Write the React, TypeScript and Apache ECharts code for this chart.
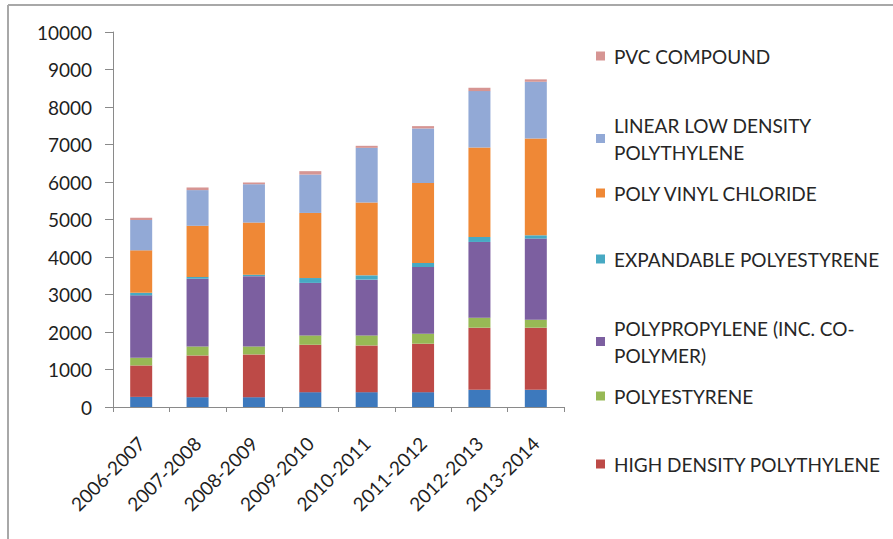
import React, { useEffect, useRef } from "react";
import * as echarts from "echarts";

const categories = ["2006-2007", "2007-2008", "2008-2009", "2009-2010", "2010-2011", "2011-2012", "2012-2013", "2013-2014"];
const ldpe = [270, 262, 262, 396, 396, 396, 459, 459];
const hdpe = [838, 1113, 1140, 1264, 1246, 1292, 1656, 1656];
const polystyrene = [205, 240, 213, 249, 267, 267, 267, 213];
const polypropylene = [1664, 1805, 1875, 1400, 1487, 1778, 2019, 2163];
const eps = [70, 50, 40, 130, 115, 107, 133, 88];
const pvc = [1130, 1362, 1388, 1736, 1941, 2136, 2386, 2582];
const lldpe = [810, 952, 1023, 1024, 1459, 1452, 1504, 1512];
const pvcCompound = [60, 70, 46, 90, 54, 62, 89, 64];
const yTicks = { min: 0, max: 10000, interval: 1000 };

const seriesDefs = [
  { name: "LOW DENSITY POLYTHYLENE", data: ldpe, color: "#3d79bd" },
  { name: "HIGH DENSITY POLYTHYLENE", data: hdpe, color: "#bd4a47" },
  { name: "POLYESTYRENE", data: polystyrene, color: "#97b955" },
  { name: "POLYPROPYLENE (INC. CO-POLYMER)", data: polypropylene, color: "#7c5fa0" },
  { name: "EXPANDABLE POLYESTYRENE", data: eps, color: "#47a9c3" },
  { name: "POLY VINYL CHLORIDE", data: pvc, color: "#ef8836" },
  { name: "LINEAR LOW DENSITY POLYTHYLENE", data: lldpe, color: "#92a9d6" },
  { name: "PVC COMPOUND", data: pvcCompound, color: "#d69593" },
];

const legendItems = [
  { name: "PVC COMPOUND", label: "PVC COMPOUND", y: 56 },
  { name: "LINEAR LOW DENSITY POLYTHYLENE", label: "LINEAR LOW DENSITY\nPOLYTHYLENE", y: 125 },
  { name: "POLY VINYL CHLORIDE", label: "POLY VINYL CHLORIDE", y: 193 },
  { name: "EXPANDABLE POLYESTYRENE", label: "EXPANDABLE POLYESTYRENE", y: 259 },
  { name: "POLYPROPYLENE (INC. CO-POLYMER)", label: "POLYPROPYLENE (INC. CO-\nPOLYMER)", y: 328 },
  { name: "POLYESTYRENE", label: "POLYESTYRENE", y: 396 },
  { name: "HIGH DENSITY POLYTHYLENE", label: "HIGH DENSITY POLYTHYLENE", y: 464 },
];

const FONT = "Lato";
const LINE_H = 27;

export default function App() {
  const ref = useRef<HTMLDivElement>(null);
  useEffect(() => {
    if (!ref.current) return;
    const chart = echarts.init(ref.current, undefined, { renderer: "svg" });
    const labelMap: Record<string, string> = {};
    legendItems.forEach((l) => (labelMap[l.name] = l.label));
    chart.setOption({
      animation: false,
      backgroundColor: "#ffffff",
      textStyle: { fontFamily: FONT },
      grid: { left: 113, top: 32, width: 451, height: 375, containLabel: false },
      xAxis: {
        type: "category",
        data: categories,
        axisLine: { lineStyle: { color: "#8a8a8a", width: 1 } },
        axisTick: { show: true, alignWithLabel: false, length: 5, lineStyle: { color: "#8a8a8a" } },
        axisLabel: { rotate: 45, interval: 0, fontSize: 19, color: "#1f1f1f", fontFamily: FONT, margin: 33 },
      },
      yAxis: {
        type: "value",
        min: yTicks.min,
        max: yTicks.max,
        interval: yTicks.interval,
        axisLine: { show: true, lineStyle: { color: "#8a8a8a", width: 1 } },
        axisTick: { show: true, length: 8, lineStyle: { color: "#8a8a8a" } },
        splitLine: { show: false },
        axisLabel: { fontSize: 19, color: "#1f1f1f", fontFamily: FONT, margin: 21, formatter: (v: number) => String(v) },
      },
      legend: legendItems.map((l) => ({
        data: [l.name],
        orient: "vertical",
        left: 596,
        top: l.y - LINE_H / 2,
        itemWidth: 9,
        itemHeight: 9,
        icon: "rect",
        padding: 0,
        selectedMode: false,
        formatter: (n: string) => labelMap[n] || n,
        textStyle: { fontSize: 19, color: "#262626", fontFamily: FONT, lineHeight: LINE_H, padding: [0, 0, 0, 4] },
      })),
      graphic: [
        { type: "line", shape: { x1: 8, y1: 5, x2: 893, y2: 5 }, style: { stroke: "#a8a8a8", lineWidth: 2 } },
        { type: "line", shape: { x1: 8, y1: 5, x2: 8, y2: 539 }, style: { stroke: "#a8a8a8", lineWidth: 2 } },
      ],
      series: seriesDefs.map((s) => ({
        name: s.name,
        type: "bar",
        stack: "total",
        barWidth: 22,
        data: s.data,
        itemStyle: { color: s.color },
      })),
    });
    return () => chart.dispose();
  }, []);
  return <div ref={ref} style={{ position: "fixed", left: 0, top: 0, width: 893, height: 539 }} />;
}
